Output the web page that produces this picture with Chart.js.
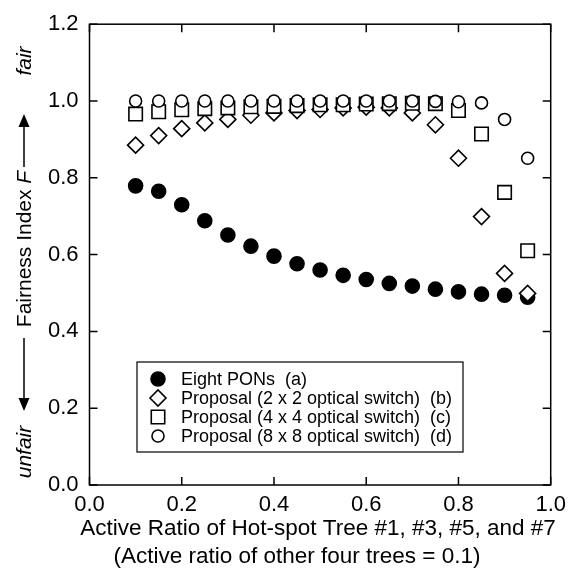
<!DOCTYPE html>
<html>
<head>
<meta charset="utf-8">
<script src="https://cdn.jsdelivr.net/npm/chart.js@4/dist/chart.umd.min.js"></script>
<style>
  body { margin: 0; background: #fff; }
  #chartBox { display: block; }
</style>
</head>
<body>
<canvas id="chartBox" width="573" height="574"></canvas>
<script>
// active ratio of hot-spot trees
const activeRatio = [0.1, 0.15, 0.2, 0.25, 0.3, 0.35, 0.4, 0.45, 0.5, 0.55, 0.6, 0.65, 0.7, 0.75, 0.8, 0.85, 0.9, 0.95];

// fairness index F
const eightPons = [0.779, 0.765, 0.730, 0.688, 0.651, 0.622, 0.596, 0.576, 0.560, 0.546, 0.535, 0.525, 0.518, 0.510, 0.503, 0.497, 0.494, 0.489];
const prop2x2 = [0.885, 0.910, 0.928, 0.943, 0.952, 0.963, 0.969, 0.975, 0.978, 0.982, 0.984, 0.982, 0.969, 0.938, 0.851, 0.699, 0.551, 0.499];
const prop4x4 = [0.966, 0.972, 0.977, 0.980, 0.982, 0.985, 0.986, 0.988, 0.990, 0.990, 0.992, 0.993, 0.994, 0.993, 0.975, 0.914, 0.762, 0.610];
const prop8x8 = [1.0, 1.0, 1.0, 1.0, 1.0, 1.0, 1.0, 1.0, 1.0, 1.0, 1.0, 1.0, 1.0, 0.999, 0.998, 0.995, 0.952, 0.851];

const seriesLabels = [
  "Eight PONs  (a)",
  "Proposal (2 x 2 optical switch)  (b)",
  "Proposal (4 x 4 optical switch)  (c)",
  "Proposal (8 x 8 optical switch)  (d)"
];

const xTicks = [0, 0.2, 0.4, 0.6, 0.8, 1.0];
const yTicks = [0, 0.2, 0.4, 0.6, 0.8, 1.0, 1.2];

const xTitle1 = "Active Ratio of Hot-spot Tree #1, #3, #5, and #7";
const xTitle2 = "(Active ratio of other four trees = 0.1)";

const FONT = "'Liberation Sans', Arial, Helvetica, sans-serif";

const toPoints = vals => vals.map((v, i) => ({ x: activeRatio[i], y: v }));

// draw one marker the same way the chart does
function marker(ctx, ds, x, y) {
  ctx.save();
  ctx.fillStyle = ds.pointBackgroundColor;
  ctx.strokeStyle = ds.pointBorderColor;
  ctx.lineWidth = ds.pointBorderWidth;
  Chart.helpers.drawPoint(ctx, {
    pointStyle: ds.pointStyle,
    rotation: 0,
    radius: ds.pointRadius,
    borderWidth: ds.pointBorderWidth
  }, x, y);
  ctx.restore();
}

const framePlugin = {
  id: 'frame',
  afterDraw(chart) {
    const ctx = chart.ctx;
    const a = chart.chartArea;
    const xs = chart.scales.x, ys = chart.scales.y;
    const tl = 8;
    ctx.save();
    ctx.strokeStyle = '#000';
    ctx.lineWidth = 1.5;
    ctx.strokeRect(a.left, a.top, a.right - a.left, a.bottom - a.top);
    ctx.beginPath();
    xTicks.forEach(t => {
      const px = xs.getPixelForValue(t);
      ctx.moveTo(px, a.bottom); ctx.lineTo(px, a.bottom - tl);
      ctx.moveTo(px, a.top); ctx.lineTo(px, a.top + tl);
    });
    yTicks.forEach(t => {
      const py = ys.getPixelForValue(t);
      ctx.moveTo(a.left, py); ctx.lineTo(a.left + tl, py);
      ctx.moveTo(a.right, py); ctx.lineTo(a.right - tl, py);
    });
    ctx.stroke();

    // x axis title, two lines
    ctx.fillStyle = '#000';
    ctx.font = '22.5px ' + FONT;
    ctx.textAlign = 'center';
    ctx.textBaseline = 'alphabetic';
    ctx.fillText(xTitle1, 318, 535);
    ctx.fillText(xTitle2, 297, 563);

    // y axis title: unfair <-- Fairness Index F --> fair
    ctx.save();
    ctx.translate(31, 0);
    ctx.rotate(-Math.PI / 2);
    ctx.textBaseline = 'alphabetic';
    ctx.textAlign = 'center';
    ctx.font = 'italic 21px ' + FONT;
    ctx.fillText('unfair', -452, 0);
    ctx.fillText('fair', -61, 0);
    const main = 'Fairness Index ';
    const fW = ctx.measureText('F').width;
    ctx.font = '21px ' + FONT;
    const mW = ctx.measureText(main).width;
    const start = -249 - (mW + fW) / 2;
    ctx.textAlign = 'left';
    ctx.fillText(main, start, 0);
    ctx.font = 'italic 21px ' + FONT;
    ctx.fillText('F', start + mW, 0);
    // arrows
    const ay = -7;
    ctx.lineWidth = 1.5;
    ctx.beginPath();
    ctx.moveTo(-338, ay); ctx.lineTo(-400, ay);
    ctx.moveTo(-167, ay); ctx.lineTo(-125, ay);
    ctx.stroke();
    ctx.beginPath();
    ctx.moveTo(-411, ay); ctx.lineTo(-398, ay - 5.5); ctx.lineTo(-398, ay + 5.5); ctx.closePath();
    ctx.moveTo(-114, ay); ctx.lineTo(-127, ay - 5.5); ctx.lineTo(-127, ay + 5.5); ctx.closePath();
    ctx.fill();
    ctx.restore();

    // legend box inside the plot
    const bx = 137, by = 362, bw = 326, bh = 90;
    ctx.lineWidth = 1.2;
    ctx.strokeRect(bx, by, bw, bh);
    ctx.font = '18px ' + FONT;
    ctx.textAlign = 'left';
    ctx.textBaseline = 'middle';
    chart.data.datasets.forEach((ds, i) => {
      const ly = 379 + i * 19;
      marker(ctx, ds, 158, ly);
      ctx.fillStyle = '#000';
      ctx.fillText(seriesLabels[i], 181, ly + 1);
    });
    ctx.restore();
  }
};

const chartBox = document.querySelector('#chartBox').getContext('2d');

const baseSet = {
  showLine: false,
  pointBorderColor: '#000',
  pointBorderWidth: 1.6,
  pointHoverRadius: 0
};

new Chart(chartBox, {
  type: 'scatter',
  data: {
    datasets: [
      { ...baseSet, label: seriesLabels[0], data: toPoints(eightPons), pointStyle: 'circle', pointRadius: 7, pointBackgroundColor: '#000', order: 3 },
      { ...baseSet, label: seriesLabels[1], data: toPoints(prop2x2), pointStyle: 'rectRot', pointRadius: 8, pointBackgroundColor: '#fff', order: 2 },
      { ...baseSet, label: seriesLabels[2], data: toPoints(prop4x4), pointStyle: 'rect', pointRadius: 9.5, pointBackgroundColor: '#fff', order: 1 },
      { ...baseSet, label: seriesLabels[3], data: toPoints(prop8x8), pointStyle: 'circle', pointRadius: 6, pointBackgroundColor: '#fff', order: 0 }
    ]
  },
  options: {
    responsive: false,
    animation: false,
    events: [],
    layout: { padding: { top: 24, right: 22, left: 0, bottom: 0 } },
    plugins: {
      legend: { display: false },
      tooltip: { enabled: false }
    },
    scales: {
      x: {
        type: 'linear',
        min: 0,
        max: 1,
        afterFit: s => { s.height = 89; },
        afterBuildTicks: s => { s.ticks = xTicks.map(v => ({ value: v })); },
        grid: { display: false, drawTicks: false },
        border: { display: false },
        ticks: {
          color: '#000',
          padding: 7,
          font: { family: FONT, size: 22 },
          callback: v => v.toFixed(1)
        }
      },
      y: {
        type: 'linear',
        min: 0,
        max: 1.2,
        afterFit: s => { s.width = 89.5; },
        afterBuildTicks: s => { s.ticks = yTicks.map(v => ({ value: v })); },
        grid: { display: false, drawTicks: false },
        border: { display: false },
        ticks: {
          color: '#000',
          padding: 11,
          font: { family: FONT, size: 22 },
          callback: v => v.toFixed(1)
        }
      }
    }
  },
  plugins: [framePlugin]
});
</script>
</body>
</html>
